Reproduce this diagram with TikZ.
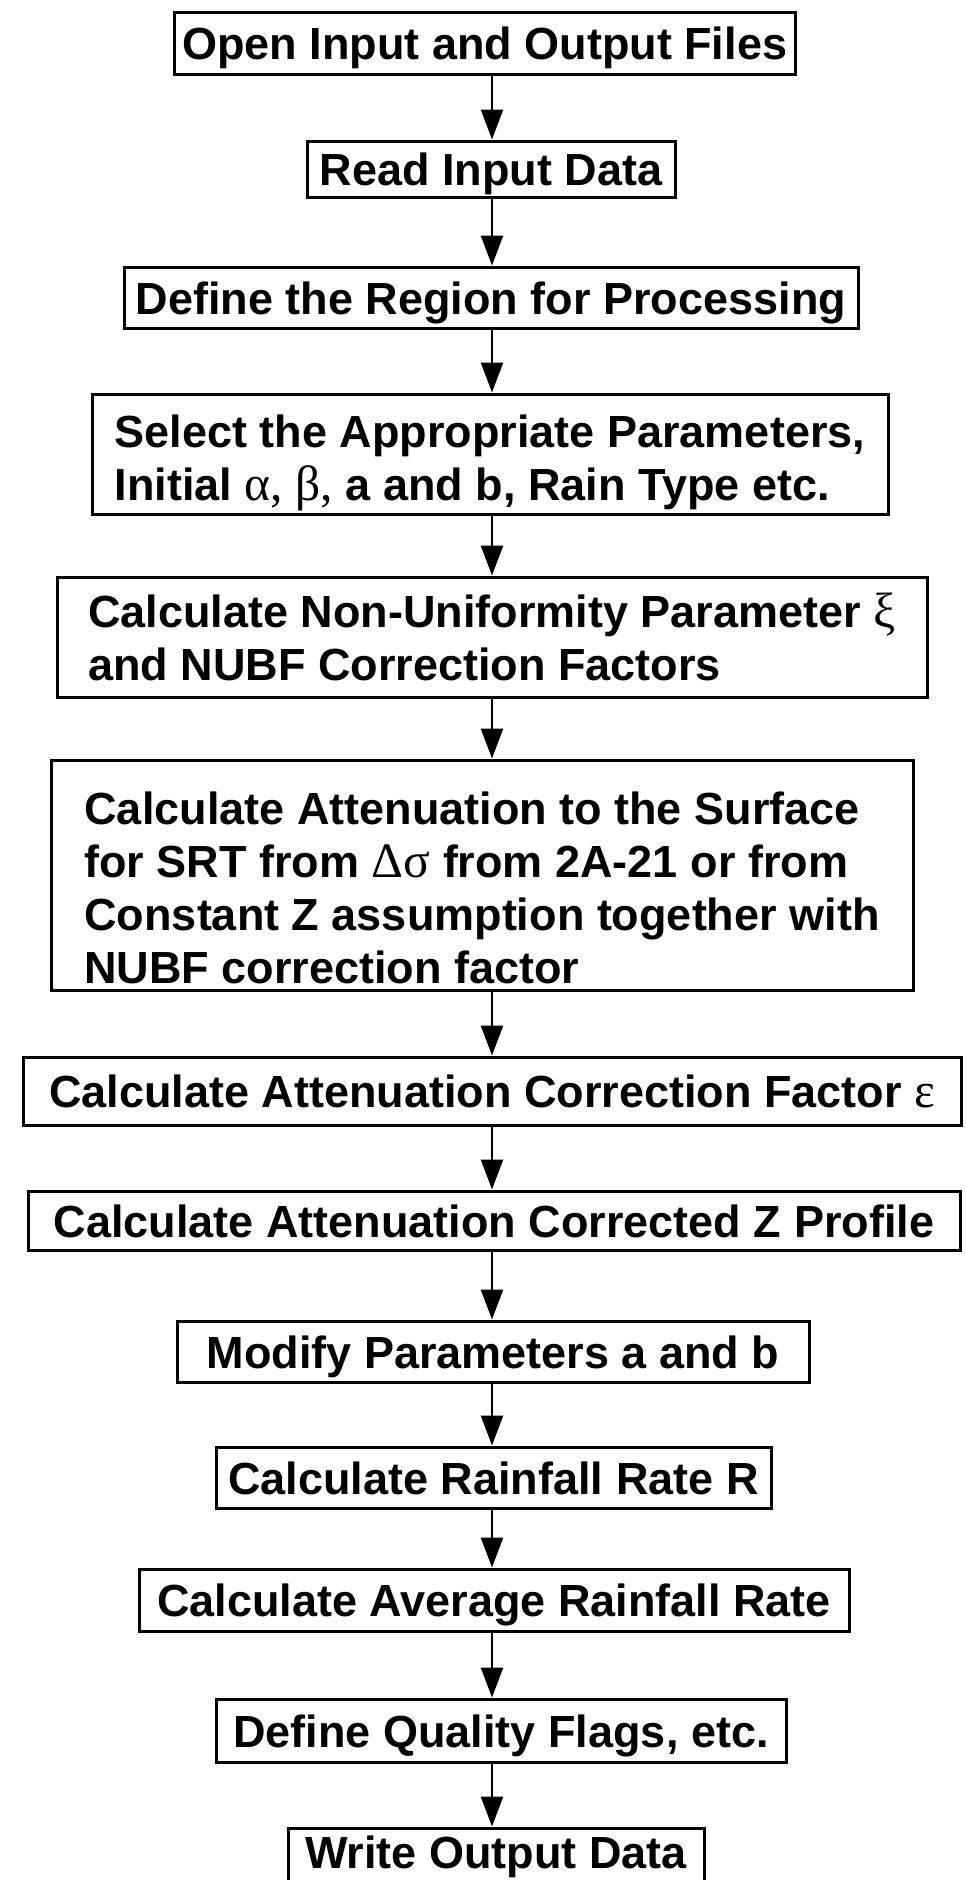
\documentclass[tikz,border=0pt]{standalone}
\usepackage{fontspec}
\setmainfont{Liberation Sans}
\newfontfamily\grk{Liberation Serif}[Scale=1.1]
\usetikzlibrary{arrows.meta}
\begin{document}
\begin{tikzpicture}[x=1pt,y=-1pt,
  box/.style={draw, line width=3pt, inner sep=0pt, font=\fontsize{45}{53}\selectfont\bfseries},
  one/.style={box, text height=33pt, text depth=0pt},
  multi/.style={box, align=left},
  arr/.style={line width=2.5pt, -{Triangle[length=30pt,width=22pt]}}]
\useasboundingbox (0,0) rectangle (966,1880);
\node[one, minimum width=621pt, minimum height=62pt] (b1) at (484.5,43) {Open Input and Output Files};
\node[one, minimum width=368pt, minimum height=56pt] (b2) at (491,169) {Read Input Data};
\node[one, minimum width=734pt, minimum height=61pt] (b3) at (491,297.5) {Define the Region for Processing};
\node[multi, minimum width=796pt, minimum height=120pt] (b4) at (490,454) {\rule{0pt}{50pt}Select the Appropriate Parameters,\\Initial {\grk\mdseries α, β,} a and b, Rain Type etc.};
\node[multi, minimum width=870pt, minimum height=120pt] (b5) at (492,637) {Calculate Non-Uniformity Parameter {\grk\mdseries ξ}\\and NUBF Correction Factors};
\node[multi, minimum width=862pt, minimum height=230pt] (b6) at (482,875) {\rule{0pt}{58pt}Calculate Attenuation to the Surface\\for SRT from {\grk\mdseries Δσ} from 2A-21 or from\\Constant Z assumption together with\\NUBF correction factor};
\node[one, minimum width=938pt, minimum height=68pt] (b7) at (492,1091) {Calculate Attenuation Correction Factor {\grk\mdseries ε}};
\node[one, minimum width=932pt, minimum height=59pt] (b8) at (494,1220.5) {Calculate Attenuation Corrected Z Profile};
\node[one, minimum width=632pt, minimum height=61pt] (b9) at (493,1351.5) {Modify Parameters a and b};
\node[one, minimum width=555pt, minimum height=61pt] (b10) at (493.5,1477.5) {Calculate Rainfall Rate R};
\node[one, minimum width=710pt, minimum height=62pt] (b11) at (494,1600) {Calculate Average Rainfall Rate};
\node[one, minimum width=570pt, minimum height=63pt] (b12) at (501,1730.5) {Define Quality Flags, etc.};
\node[box, text height=33pt, text depth=10pt, minimum width=416pt, minimum height=57pt] (b13) at (496,1856.5) {Write Output Data};
\coordinate (ax) at (492,0);
\foreach \a/\b in {b1/b2,b2/b3,b3/b4,b4/b5,b5/b6,b6/b7,b7/b8,b8/b9,b9/b10,b10/b11,b11/b12,b12/b13}
  \draw[arr] (\a.south -| ax) -- (\b.north -| ax);
\end{tikzpicture}
\end{document}
